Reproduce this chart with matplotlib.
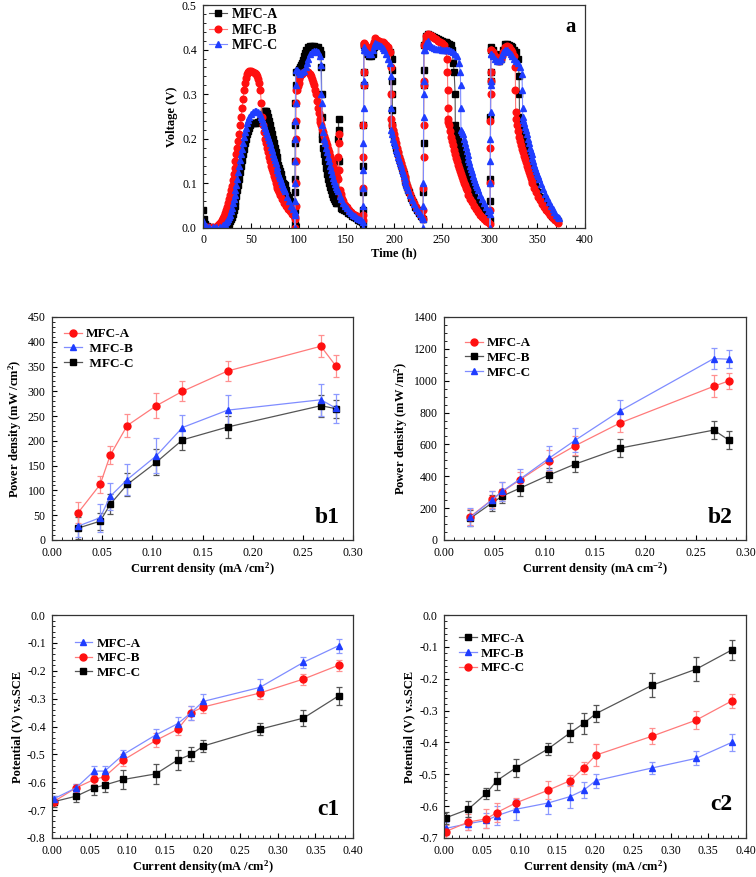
import numpy as np
import matplotlib
matplotlib.use('Agg')
import matplotlib.pyplot as plt
from matplotlib.ticker import MultipleLocator, FormatStrFormatter

plt.rcParams['font.family'] = ['Liberation Serif', 'DejaVu Serif']
plt.rcParams['mathtext.fontset'] = 'custom'
plt.rcParams['mathtext.rm'] = 'Liberation Serif:bold'
plt.rcParams['mathtext.bf'] = 'Liberation Serif:bold'
plt.rcParams['mathtext.default'] = 'bf'
plt.rcParams['axes.unicode_minus'] = False

# =============================================================================
# DATOS - panel a (tiempo h, voltaje V)
# =============================================================================

volt_A = [
    (0, 0.04), (1, 0.02), (2, 0.01), (4, 0.004), (7, 0.002), (10, 0.0), (14, 0.0), (18, 0.0),
    (22, 0.001), (25, 0.005), (27, 0.01),
    (28, 0.015), (29, 0.02), (30, 0.025), (31, 0.032), (32, 0.04), (33, 0.05), (34, 0.06),
    (35, 0.072), (36, 0.085), (37, 0.097), (38, 0.11), (39, 0.125), (40, 0.14), (41, 0.152),
    (42, 0.165), (43, 0.178), (44, 0.19), (45, 0.2), (46, 0.21), (47, 0.218), (48, 0.225),
    (49, 0.23), (50, 0.235),
    (52, 0.236), (54, 0.236), (56, 0.236), (58, 0.237), (60, 0.24), (61, 0.245), (62, 0.25),
    (63, 0.256), (64, 0.262), (65, 0.263), (66, 0.262),
    (67, 0.257), (68, 0.25), (69, 0.24), (70, 0.23), (71, 0.22), (72, 0.21), (73, 0.2),
    (74, 0.19), (75, 0.18), (76, 0.17), (77, 0.16), (78, 0.15), (79, 0.142), (80, 0.135),
    (81, 0.127), (82, 0.12), (83, 0.11), (84, 0.1), (85, 0.098), (86, 0.097), (87, 0.085),
    (88, 0.075), (89, 0.07), (90, 0.065), (91, 0.06), (92, 0.055), (93, 0.05), (94, 0.045),
    (95, 0.042), (95.5, 0.04),
    (96.0, 0.0), (96.1, 0.01), (96.2, 0.04), (96.3, 0.08), (96.4, 0.11), (96.5, 0.15),
    (96.6, 0.19), (96.7, 0.23), (96.8, 0.28), (96.9, 0.32), (97.0, 0.35),
    (98, 0.35), (99, 0.352), (100, 0.355), (101, 0.357), (102, 0.36), (103, 0.365), (104, 0.37),
    (105, 0.377), (106, 0.385), (107, 0.393), (108, 0.40), (110, 0.405), (112, 0.407),
    (114, 0.407), (116, 0.407), (118, 0.406), (120, 0.405), (122, 0.40), (123.5, 0.39),
    (124, 0.36), (124.2, 0.30), (124.4, 0.25), (124.6, 0.21),
    (125, 0.2), (126, 0.18), (127, 0.165), (128, 0.15), (129, 0.135), (130, 0.12), (131, 0.11),
    (132, 0.10), (133, 0.092), (134, 0.085), (135, 0.077), (136, 0.07), (137, 0.065),
    (138, 0.06), (139, 0.057), (140, 0.055),
    (141.5, 0.06), (141.7, 0.15), (141.8, 0.20), (141.9, 0.245), (142.0, 0.22), (142.1, 0.15),
    (142.2, 0.08), (144, 0.045), (146, 0.042), (148, 0.04), (150, 0.037), (152, 0.034),
    (154, 0.031), (156, 0.028), (158, 0.025), (160, 0.022), (162, 0.019), (164, 0.016),
    (166, 0.013), (167.5, 0.01),
    (167.7, 0.04), (167.8, 0.08), (167.9, 0.14), (168.0, 0.23), (168.1, 0.32), (168.2, 0.35),
    (168.4, 0.41),
    (169, 0.41), (170, 0.40), (172, 0.39), (174, 0.385), (176, 0.385), (178, 0.39), (179, 0.405),
    (180, 0.415), (182, 0.415), (184, 0.413), (186, 0.412), (188, 0.41), (190, 0.408),
    (192, 0.405), (194, 0.40), (196, 0.395), (197.5, 0.38),
    (198, 0.355), (198.1, 0.33), (198.2, 0.30), (198.3, 0.265), (198.4, 0.23),
    (199, 0.215), (200, 0.20), (201, 0.19), (202, 0.18), (203, 0.172), (204, 0.165),
    (205, 0.157), (206, 0.15), (207, 0.142), (208, 0.135), (209, 0.127), (210, 0.12),
    (211, 0.112), (212, 0.105), (213, 0.098), (214, 0.092), (215, 0.086), (216, 0.08),
    (218, 0.068), (220, 0.058), (222, 0.048), (224, 0.04), (226, 0.033), (228, 0.027),
    (230, 0.02),
    (230.8, 0.08), (230.9, 0.19), (231.0, 0.32), (231.1, 0.355), (231.3, 0.41),
    (232, 0.41), (233, 0.42), (234, 0.43), (236, 0.435), (238, 0.433), (240, 0.43), (242, 0.428),
    (244, 0.426), (246, 0.424), (248, 0.422), (250, 0.42), (252, 0.418), (254, 0.416),
    (256, 0.414), (258, 0.412), (260, 0.41), (261, 0.40), (262, 0.37), (263, 0.35),
    (264, 0.30), (264.2, 0.23),
    (265, 0.22), (266, 0.21), (267, 0.20), (268, 0.19), (269, 0.177), (270, 0.165),
    (271, 0.157), (272, 0.15), (273, 0.142), (274, 0.135), (275, 0.127), (276, 0.12),
    (277, 0.112), (278, 0.105), (279, 0.098), (280, 0.092), (282, 0.08), (284, 0.07),
    (286, 0.06), (288, 0.052), (290, 0.044), (292, 0.037), (294, 0.031), (296, 0.026),
    (298, 0.021), (300, 0.017),
    (300.8, 0.06), (300.9, 0.11), (301.0, 0.25), (301.1, 0.33), (301.2, 0.35), (301.4, 0.40),
    (302, 0.405), (304, 0.40), (306, 0.39), (308, 0.38), (310, 0.375), (312, 0.38), (313, 0.39),
    (314, 0.40), (316, 0.412), (318, 0.413), (320, 0.41), (322, 0.408), (324, 0.405),
    (326, 0.40), (328, 0.395), (330, 0.38), (331, 0.34), (331.2, 0.30), (331.4, 0.25),
    (332, 0.235), (333, 0.22), (334, 0.21), (335, 0.20), (336, 0.19), (337, 0.18), (338, 0.17),
    (339, 0.16), (340, 0.152), (341, 0.145), (342, 0.137), (343, 0.13), (344, 0.122),
    (345, 0.115), (346, 0.107), (347, 0.10), (348, 0.095), (349, 0.09), (351, 0.08),
    (353, 0.07), (355, 0.062), (357, 0.054), (359, 0.047), (361, 0.04), (363, 0.034),
    (365, 0.028), (367, 0.024), (369, 0.02), (371, 0.017), (372, 0.015),
]

volt_B = [
    (0, 0.005), (3, 0.003), (6, 0.002), (10, 0.002), (14, 0.003), (16, 0.006), (17, 0.008),
    (18, 0.011), (19, 0.014), (20, 0.018), (21, 0.022), (22, 0.027), (23, 0.033), (24, 0.04),
    (25, 0.047), (26, 0.055), (27, 0.065), (28, 0.075), (29, 0.085), (30, 0.095), (31, 0.107),
    (32, 0.12), (33, 0.135), (34, 0.15), (35, 0.165), (36, 0.18), (37, 0.195), (38, 0.21),
    (39, 0.23), (40, 0.25), (41, 0.27), (42, 0.29), (43, 0.31), (44, 0.325), (45, 0.337),
    (46, 0.345), (47, 0.35), (48, 0.352), (50, 0.352), (52, 0.35), (54, 0.348), (56, 0.345),
    (57, 0.341), (58, 0.335), (59, 0.325), (60, 0.31), (61, 0.28), (62, 0.25), (63, 0.23),
    (64, 0.215), (65, 0.20), (66, 0.19), (67, 0.18), (68, 0.17), (69, 0.16), (70, 0.15),
    (71, 0.14), (72, 0.132), (73, 0.125), (74, 0.117), (75, 0.11), (76, 0.102), (77, 0.095),
    (78, 0.09), (79, 0.085), (80, 0.08), (81, 0.075), (83, 0.065), (85, 0.057), (87, 0.05),
    (89, 0.043), (91, 0.037), (93, 0.032), (95, 0.028), (96.5, 0.025),
    (96.7, 0.0), (96.8, 0.02), (96.9, 0.05), (97.0, 0.10), (97.1, 0.15), (97.2, 0.20),
    (97.3, 0.24), (97.4, 0.28), (97.5, 0.31),
    (98, 0.31), (99, 0.318), (100, 0.325), (101, 0.333), (102, 0.34), (104, 0.345), (106, 0.35),
    (108, 0.352), (110, 0.35), (112, 0.345), (113, 0.34), (114, 0.335), (115, 0.328),
    (116, 0.32), (117, 0.31), (118, 0.30), (119, 0.285), (120, 0.27), (121, 0.257),
    (122, 0.245), (123, 0.237), (124, 0.23), (125, 0.222), (126, 0.215), (127, 0.207),
    (128, 0.20), (129, 0.192), (130, 0.185), (131, 0.177), (132, 0.17), (133, 0.162),
    (134, 0.155), (135, 0.147), (136, 0.14), (137, 0.132), (138, 0.125), (139, 0.12),
    (140, 0.115), (141.6, 0.11), (141.8, 0.16), (141.9, 0.21), (142.0, 0.19), (142.1, 0.13),
    (143, 0.085), (144, 0.077), (145, 0.07), (146, 0.065), (147, 0.06), (149, 0.052),
    (151, 0.046), (153, 0.04), (155, 0.036), (157, 0.032), (159, 0.029), (161, 0.026),
    (163, 0.023), (165, 0.02), (167.5, 0.017),
    (167.7, 0.03), (167.8, 0.09), (167.9, 0.16), (168.0, 0.23), (168.1, 0.32), (168.2, 0.35),
    (168.4, 0.41),
    (169, 0.415), (170, 0.41), (172, 0.405), (174, 0.40), (176, 0.398), (178, 0.41), (179, 0.418),
    (180, 0.425), (182, 0.422), (184, 0.42), (186, 0.418), (188, 0.416), (190, 0.414),
    (192, 0.41), (194, 0.405), (196, 0.395), (196.8, 0.36), (197, 0.30), (197.2, 0.245),
    (198, 0.232), (199, 0.22), (200, 0.21), (201, 0.20), (202, 0.19), (203, 0.18), (204, 0.17),
    (205, 0.16), (206, 0.152), (207, 0.145), (208, 0.137), (209, 0.13), (210, 0.122),
    (211, 0.115), (212, 0.107), (213, 0.10), (214, 0.094), (215, 0.088), (217, 0.076),
    (219, 0.065), (221, 0.055), (223, 0.046), (225, 0.038), (227, 0.031), (229, 0.025),
    (230.5, 0.02),
    (230.7, 0.04), (230.8, 0.09), (230.9, 0.16), (231.0, 0.23), (231.1, 0.32), (231.2, 0.33),
    (231.4, 0.41),
    (232, 0.41), (233, 0.42), (234, 0.43), (236, 0.435), (238, 0.432), (240, 0.43), (242, 0.427),
    (244, 0.424), (246, 0.42), (248, 0.417), (250, 0.414), (252, 0.41), (254, 0.40),
    (255.5, 0.38), (256, 0.35), (256.2, 0.31), (256.4, 0.27), (256.6, 0.245),
    (257, 0.237), (258, 0.23), (259, 0.217), (260, 0.205), (261, 0.195), (262, 0.185),
    (263, 0.175), (264, 0.165), (265, 0.157), (266, 0.15), (267, 0.142), (268, 0.135),
    (269, 0.127), (270, 0.12), (271, 0.114), (272, 0.108), (273, 0.102), (274, 0.096),
    (275, 0.09), (276, 0.085), (278, 0.075), (280, 0.066), (282, 0.058), (284, 0.05),
    (286, 0.043), (288, 0.036), (290, 0.03), (292, 0.025), (294, 0.02), (296, 0.016),
    (298, 0.013), (300.5, 0.01),
    (300.7, 0.04), (300.8, 0.10), (300.9, 0.18), (301.0, 0.24), (301.1, 0.30), (301.2, 0.33),
    (301.3, 0.35), (301.5, 0.40),
    (302, 0.40), (304, 0.395), (306, 0.385), (308, 0.377), (310, 0.375), (312, 0.378),
    (313, 0.385), (314, 0.395), (316, 0.405), (318, 0.407), (320, 0.405), (322, 0.40),
    (324, 0.395), (326, 0.385), (327, 0.36), (327.2, 0.31), (327.4, 0.26),
    (328, 0.245), (329, 0.23), (330, 0.217), (331, 0.205), (332, 0.195), (333, 0.185),
    (334, 0.177), (335, 0.17), (336, 0.162), (337, 0.155), (338, 0.147), (339, 0.14),
    (340, 0.132), (341, 0.125), (342, 0.118), (343, 0.112), (344, 0.106), (345, 0.10),
    (347, 0.09), (349, 0.08), (351, 0.07), (353, 0.062), (355, 0.054), (357, 0.047),
    (359, 0.04), (361, 0.035), (363, 0.03), (365, 0.026), (367, 0.022), (369, 0.018),
    (371, 0.015), (372, 0.012),
]

volt_C = [
    (0, 0.015), (1, 0.01), (3, 0.005), (6, 0.003), (10, 0.002), (14, 0.002), (18, 0.003),
    (21, 0.006), (23, 0.01),
    (24, 0.013), (25, 0.016), (26, 0.02), (27, 0.025), (28, 0.03), (29, 0.037), (30, 0.045),
    (31, 0.055), (32, 0.065), (33, 0.075), (34, 0.085), (35, 0.097), (36, 0.11), (37, 0.125),
    (38, 0.14), (39, 0.152), (40, 0.165), (41, 0.177), (42, 0.19), (43, 0.203), (44, 0.215),
    (45, 0.225), (46, 0.235), (47, 0.242), (48, 0.248), (50, 0.255), (52, 0.26), (54, 0.262),
    (56, 0.263), (58, 0.26), (60, 0.255), (61, 0.25), (62, 0.245), (63, 0.238), (64, 0.232),
    (65, 0.225), (66, 0.218), (67, 0.211), (68, 0.205), (69, 0.197), (70, 0.19), (71, 0.182),
    (72, 0.175), (73, 0.167), (74, 0.16), (75, 0.152), (76, 0.145), (77, 0.137), (78, 0.13),
    (79, 0.123), (80, 0.117), (81, 0.111), (82, 0.105), (83, 0.099), (84, 0.093), (85, 0.087),
    (86, 0.082), (88, 0.07), (90, 0.06), (92, 0.05), (94, 0.042), (96, 0.035),
    (96.2, 0.0), (96.3, 0.03), (96.4, 0.06), (96.5, 0.10), (96.6, 0.15), (96.7, 0.20),
    (96.8, 0.24), (96.9, 0.28), (97.0, 0.32), (97.1, 0.355),
    (98, 0.355), (100, 0.35), (102, 0.345), (104, 0.35), (106, 0.352), (108, 0.36), (109, 0.37),
    (110, 0.38), (112, 0.39), (114, 0.395), (116, 0.397), (118, 0.397), (120, 0.395),
    (122, 0.385), (123.5, 0.365), (124, 0.30), (124.2, 0.28),
    (125, 0.23), (126, 0.215), (127, 0.20), (128, 0.19), (129, 0.18), (130, 0.17), (131, 0.16),
    (132, 0.15), (133, 0.14), (134, 0.13), (135, 0.12), (136, 0.112), (137, 0.105),
    (138, 0.099), (139, 0.093), (140, 0.087), (141, 0.082), (143, 0.072), (145, 0.064),
    (147, 0.056), (149, 0.05), (151, 0.044), (153, 0.039), (155, 0.034), (157, 0.03),
    (159, 0.026), (161, 0.023), (163, 0.02), (165, 0.017), (167.5, 0.014),
    (167.6, 0.0), (167.7, 0.05), (167.8, 0.09), (167.9, 0.13), (168.0, 0.19), (168.1, 0.27),
    (168.2, 0.33), (168.4, 0.40),
    (169, 0.405), (170, 0.40), (172, 0.395), (174, 0.39), (176, 0.39), (178, 0.40), (179, 0.408),
    (180, 0.415), (182, 0.412), (184, 0.41), (186, 0.407), (188, 0.403), (190, 0.398),
    (192, 0.39), (194, 0.38), (196, 0.37), (196.8, 0.34), (197, 0.27), (197.2, 0.22),
    (198, 0.21), (199, 0.20), (200, 0.192), (201, 0.185), (202, 0.176), (203, 0.168),
    (204, 0.16), (205, 0.152), (206, 0.145), (207, 0.138), (208, 0.131), (209, 0.124),
    (210, 0.117), (211, 0.11), (212, 0.103), (213, 0.097), (214, 0.091), (215, 0.085),
    (217, 0.074), (219, 0.063), (221, 0.054), (223, 0.045), (225, 0.038), (227, 0.031),
    (229, 0.025), (230.5, 0.02),
    (230.6, 0.0), (230.7, 0.05), (230.8, 0.10), (230.9, 0.25), (231.0, 0.30), (231.1, 0.33),
    (231.3, 0.40),
    (232, 0.40), (233, 0.408), (234, 0.415), (236, 0.42), (238, 0.41), (240, 0.405), (242, 0.403),
    (244, 0.402), (246, 0.402), (248, 0.401), (250, 0.40), (252, 0.40), (254, 0.40),
    (256, 0.399), (258, 0.398), (260, 0.397), (262, 0.395), (264, 0.39), (266, 0.385),
    (268, 0.37), (269.5, 0.35), (269.7, 0.32), (269.9, 0.27), (270.1, 0.22),
    (271, 0.215), (272, 0.21), (273, 0.20), (274, 0.19), (275, 0.181), (276, 0.172),
    (277, 0.163), (278, 0.155), (279, 0.147), (280, 0.14), (281, 0.132), (282, 0.125),
    (283, 0.117), (284, 0.11), (285, 0.103), (286, 0.097), (287, 0.091), (288, 0.085),
    (290, 0.074), (292, 0.064), (294, 0.055), (296, 0.046), (298, 0.038), (300, 0.031),
    (300.6, 0.0), (300.7, 0.04), (300.8, 0.10), (300.9, 0.15), (301.0, 0.20), (301.1, 0.26),
    (301.2, 0.32), (301.3, 0.33), (301.5, 0.39),
    (302, 0.39), (304, 0.385), (306, 0.38), (308, 0.375), (310, 0.375), (312, 0.38), (313, 0.387),
    (314, 0.395), (316, 0.40), (318, 0.398), (320, 0.395), (322, 0.39), (324, 0.385),
    (326, 0.38), (328, 0.375), (330, 0.37), (332, 0.36), (334, 0.345), (334.4, 0.31),
    (334.6, 0.27), (334.8, 0.25),
    (335, 0.242), (336, 0.235), (337, 0.227), (338, 0.22), (339, 0.21), (340, 0.20),
    (341, 0.19), (342, 0.18), (343, 0.172), (344, 0.165), (345, 0.157), (346, 0.15),
    (347, 0.142), (348, 0.135), (349, 0.128), (350, 0.122), (351, 0.116), (352, 0.11),
    (354, 0.098), (356, 0.087), (358, 0.077), (360, 0.067), (362, 0.058), (364, 0.05),
    (366, 0.043), (368, 0.036), (370, 0.03), (372, 0.025), (373, 0.022),
]

# =============================================================================
# DATOS - paneles b1 / b2 (densidad de potencia)
# =============================================================================

cd_b = [0.026, 0.048, 0.058, 0.075, 0.104, 0.130, 0.175, 0.268, 0.283]

b1_A = [55, 112, 171, 231, 271, 300, 341, 391, 351]
b1_A_err = [21, 17, 18, 24, 25, 20, 21, 22, 23]
b1_B = [28, 45, 88, 122, 170, 227, 262, 283, 266]
b1_B_err = [22, 28, 27, 32, 35, 25, 31, 32, 29]
b1_C = [24, 38, 72, 112, 157, 202, 228, 271, 265]
b1_C_err = [22, 17, 20, 24, 26, 20, 22, 22, 18]

b2_A = [146, 255, 303, 376, 497, 591, 735, 965, 999]
b2_A_err = [50, 55, 60, 50, 65, 60, 55, 69, 52]
b2_B = [136, 234, 276, 324, 407, 476, 577, 690, 627]
b2_B_err = [50, 50, 45, 45, 46, 51, 56, 56, 58]
b2_C = [142, 253, 307, 380, 512, 625, 811, 1139, 1135]
b2_C_err = [56, 56, 60, 67, 75, 75, 70, 66, 58]

# =============================================================================
# DATOS - paneles c1 / c2 (potencial vs SCE)
# =============================================================================

cd_c = [0.002, 0.032, 0.056, 0.070, 0.095, 0.138, 0.167, 0.185, 0.201, 0.276, 0.334, 0.381]

c1_A = [-0.66, -0.62, -0.56, -0.56, -0.50, -0.43, -0.39, -0.35, -0.31, -0.26, -0.17, -0.11]
c1_A_err = [0.01, 0.015, 0.02, 0.02, 0.015, 0.02, 0.025, 0.025, 0.025, 0.03, 0.02, 0.025]
c1_B = [-0.67, -0.62, -0.59, -0.58, -0.52, -0.45, -0.41, -0.35, -0.33, -0.28, -0.23, -0.18]
c1_B_err = [0.01, 0.015, 0.015, 0.02, 0.02, 0.025, 0.02, 0.025, 0.02, 0.02, 0.02, 0.02]
c1_C = [-0.67, -0.65, -0.62, -0.61, -0.59, -0.57, -0.52, -0.50, -0.47, -0.41, -0.37, -0.29]
c1_C_err = [0.02, 0.02, 0.025, 0.025, 0.035, 0.035, 0.035, 0.025, 0.022, 0.022, 0.028, 0.032]

c2_A = [-0.637, -0.61, -0.56, -0.52, -0.48, -0.42, -0.37, -0.34, -0.31, -0.22, -0.17, -0.11]
c2_A_err = [0.02, 0.025, 0.018, 0.028, 0.027, 0.018, 0.03, 0.032, 0.027, 0.037, 0.038, 0.032]
c2_B = [-0.67, -0.655, -0.645, -0.63, -0.61, -0.59, -0.57, -0.55, -0.52, -0.48, -0.45, -0.40]
c2_B_err = [0.02, 0.02, 0.025, 0.03, 0.033, 0.035, 0.035, 0.025, 0.022, 0.018, 0.022, 0.028]
c2_C = [-0.68, -0.65, -0.64, -0.62, -0.59, -0.55, -0.52, -0.48, -0.44, -0.38, -0.33, -0.27]
c2_C_err = [0.02, 0.025, 0.03, 0.03, 0.015, 0.028, 0.018, 0.02, 0.035, 0.025, 0.028, 0.022]

# estilos por color
RED = dict(marker='o', mfc='#FF1010', mec='#FF1010', color='#FF7A7A', ecolor='#FF9090')
BLUE = dict(marker='^', mfc='#1F3DFF', mec='#1F3DFF', color='#7F8CFF', ecolor='#8C99FF')
BLACK = dict(marker='s', mfc='#000000', mec='#000000', color='#555555', ecolor='#555555')

FIG_W, FIG_H = 756, 877


def axes_px(fig, x0, y0, x1, y1):
    return fig.add_axes([x0 / FIG_W, 1 - y1 / FIG_H, (x1 - x0) / FIG_W, (y1 - y0) / FIG_H])


def style_axes(ax):
    ax.minorticks_on()
    ax.tick_params(which='both', direction='in', top=False, right=False, labelsize=8.5)
    ax.tick_params(which='major', length=3.5, width=0.8)
    ax.tick_params(which='minor', length=2, width=0.6)
    ax.tick_params(axis='x', which='major', pad=5)
    ax.tick_params(axis='y', which='major', pad=4.5)
    for s in ax.spines.values():
        s.set_color('#333333')
        s.set_linewidth(0.9)


def err_series(ax, x, y, e, st, label, ms=5.0):
    c = ax.errorbar(x, y, yerr=e, fmt='-', marker=st['marker'], color=st['color'],
                    mfc=st['mfc'], mec=st['mec'], ecolor=st['ecolor'], ms=ms, lw=0.9,
                    elinewidth=0.9, capsize=2.3, capthick=0.9, label=label)
    return c[0]


def legend(ax, handles, labels, anchor, fs=9.5):
    ax.legend(handles, labels, loc='upper left', bbox_to_anchor=anchor, frameon=False,
              prop={'weight': 'bold', 'size': fs}, handlelength=1.35, handletextpad=0.3,
              labelspacing=0.18, borderpad=0, borderaxespad=0)


fig = plt.figure(figsize=(FIG_W / 100, FIG_H / 100), dpi=100)

# ---------------- panel a ----------------
ax = axes_px(fig, 203, 5, 585, 228)
handles = []
for pts, st in [(volt_A, BLACK), (volt_B, RED), (volt_C, BLUE)]:
    t = [p[0] for p in pts]
    v = [p[1] for p in pts]
    h, = ax.plot(t, v, '-', marker=st['marker'], color=st['color'], mfc=st['mfc'],
                 mec=st['mec'], ms=4.8, lw=0.8)
    handles.append(h)
ax.set_xlim(0, 400)
ax.set_ylim(0, 0.5)
ax.xaxis.set_major_locator(MultipleLocator(50))
ax.xaxis.set_minor_locator(MultipleLocator(25))
ax.yaxis.set_major_locator(MultipleLocator(0.1))
ax.yaxis.set_minor_locator(MultipleLocator(0.05))
ax.yaxis.set_major_formatter(FormatStrFormatter('%.1f'))
style_axes(ax)
ax.tick_params(axis='x', which='major', pad=4)
ax.set_xlabel('Time (h)', fontweight='bold', fontsize=9, labelpad=1)
ax.set_ylabel('Voltage (V)', fontweight='bold', fontsize=9, labelpad=3)
legend(ax, handles, ['MFC-A', 'MFC-B', 'MFC-C'], (0.015, 0.985), fs=10)
ax.text(0.975, 0.9, 'a', transform=ax.transAxes, ha='right', va='center',
        fontsize=15, fontweight='bold')

# ---------------- panel b1 ----------------
ax = axes_px(fig, 52, 317, 353, 540)
hA = err_series(ax, cd_b, b1_C, b1_C_err, BLACK, 'MFC-C')
hB = err_series(ax, cd_b, b1_B, b1_B_err, BLUE, 'MFC-B')
hC = err_series(ax, cd_b, b1_A, b1_A_err, RED, 'MFC-A')
ax.set_xlim(0, 0.30)
ax.set_ylim(0, 450)
ax.xaxis.set_major_locator(MultipleLocator(0.05))
ax.xaxis.set_minor_locator(MultipleLocator(0.025))
ax.xaxis.set_major_formatter(FormatStrFormatter('%.2f'))
ax.yaxis.set_major_locator(MultipleLocator(50))
ax.yaxis.set_minor_locator(MultipleLocator(25))
style_axes(ax)
ax.set_xlabel('Current density (mA /cm$^{2}$)', fontweight='bold', fontsize=9, labelpad=1)
ax.set_ylabel('Power density (mW /cm$^{2}$)', fontweight='bold', fontsize=9, labelpad=3)
legend(ax, [hC, hB, hA], ['MFC-A', ' MFC-B', ' MFC-C'], (0.04, 0.95))
ax.text(0.955, 0.1, 'b1', transform=ax.transAxes, ha='right', va='center',
        fontsize=17, fontweight='bold')

# ---------------- panel b2 ----------------
ax = axes_px(fig, 444, 317, 746, 540)
h2 = err_series(ax, cd_b, b2_B, b2_B_err, BLACK, 'MFC-B')
h1 = err_series(ax, cd_b, b2_A, b2_A_err, RED, 'MFC-A')
h3 = err_series(ax, cd_b, b2_C, b2_C_err, BLUE, 'MFC-C')
ax.set_xlim(0, 0.30)
ax.set_ylim(0, 1400)
ax.xaxis.set_major_locator(MultipleLocator(0.05))
ax.xaxis.set_minor_locator(MultipleLocator(0.025))
ax.xaxis.set_major_formatter(FormatStrFormatter('%.2f'))
ax.yaxis.set_major_locator(MultipleLocator(200))
ax.yaxis.set_minor_locator(MultipleLocator(100))
style_axes(ax)
ax.set_xlabel('Current density (mA cm$^{-2}$)', fontweight='bold', fontsize=9, labelpad=1)
ax.set_ylabel('Power density (mW /m$^{2}$)', fontweight='bold', fontsize=9, labelpad=3)
legend(ax, [h1, h2, h3], ['MFC-A', 'MFC-B', 'MFC-C'], (0.07, 0.91))
ax.text(0.955, 0.1, 'b2', transform=ax.transAxes, ha='right', va='center',
        fontsize=17, fontweight='bold')

# ---------------- panel c1 ----------------
ax = axes_px(fig, 52, 615, 353, 838)
g3 = err_series(ax, cd_c, c1_C, c1_C_err, BLACK, 'MFC-C')
g2 = err_series(ax, cd_c, c1_B, c1_B_err, RED, 'MFC-B')
g1 = err_series(ax, cd_c, c1_A, c1_A_err, BLUE, 'MFC-A')
ax.set_xlim(0, 0.40)
ax.set_ylim(-0.8, 0.0)
ax.xaxis.set_major_locator(MultipleLocator(0.05))
ax.xaxis.set_minor_locator(MultipleLocator(0.025))
ax.xaxis.set_major_formatter(FormatStrFormatter('%.2f'))
ax.yaxis.set_major_locator(MultipleLocator(0.1))
ax.yaxis.set_minor_locator(MultipleLocator(0.05))
ax.yaxis.set_major_formatter(FormatStrFormatter('%.1f'))
style_axes(ax)
ax.set_xlabel('Current density(mA /cm$^{2}$)', fontweight='bold', fontsize=9, labelpad=1)
ax.set_ylabel('Potential (V) v.s.SCE', fontweight='bold', fontsize=9, labelpad=3)
legend(ax, [g1, g2, g3], ['MFC-A', 'MFC-B', 'MFC-C'], (0.075, 0.9))
ax.text(0.955, 0.13, 'c1', transform=ax.transAxes, ha='right', va='center',
        fontsize=17, fontweight='bold')

# ---------------- panel c2 ----------------
ax = axes_px(fig, 444, 615, 746, 838)
k2 = err_series(ax, cd_c, c2_B, c2_B_err, BLUE, 'MFC-B')
k3 = err_series(ax, cd_c, c2_C, c2_C_err, RED, 'MFC-C')
k1 = err_series(ax, cd_c, c2_A, c2_A_err, BLACK, 'MFC-A')
ax.set_xlim(0, 0.40)
ax.set_ylim(-0.7, 0.0)
ax.xaxis.set_major_locator(MultipleLocator(0.05))
ax.xaxis.set_minor_locator(MultipleLocator(0.025))
ax.xaxis.set_major_formatter(FormatStrFormatter('%.2f'))
ax.yaxis.set_major_locator(MultipleLocator(0.1))
ax.yaxis.set_minor_locator(MultipleLocator(0.05))
ax.yaxis.set_major_formatter(FormatStrFormatter('%.1f'))
style_axes(ax)
ax.set_xlabel('Current density (mA /cm$^{2}$)', fontweight='bold', fontsize=9, labelpad=1)
ax.set_ylabel('Potential (V) v.s.SCE', fontweight='bold', fontsize=9, labelpad=3)
legend(ax, [k1, k2, k3], ['MFC-A', 'MFC-B', 'MFC-C'], (0.05, 0.92))
ax.text(0.955, 0.15, 'c2', transform=ax.transAxes, ha='right', va='center',
        fontsize=17, fontweight='bold')

fig.savefig('out.png', dpi=100, facecolor='white')
